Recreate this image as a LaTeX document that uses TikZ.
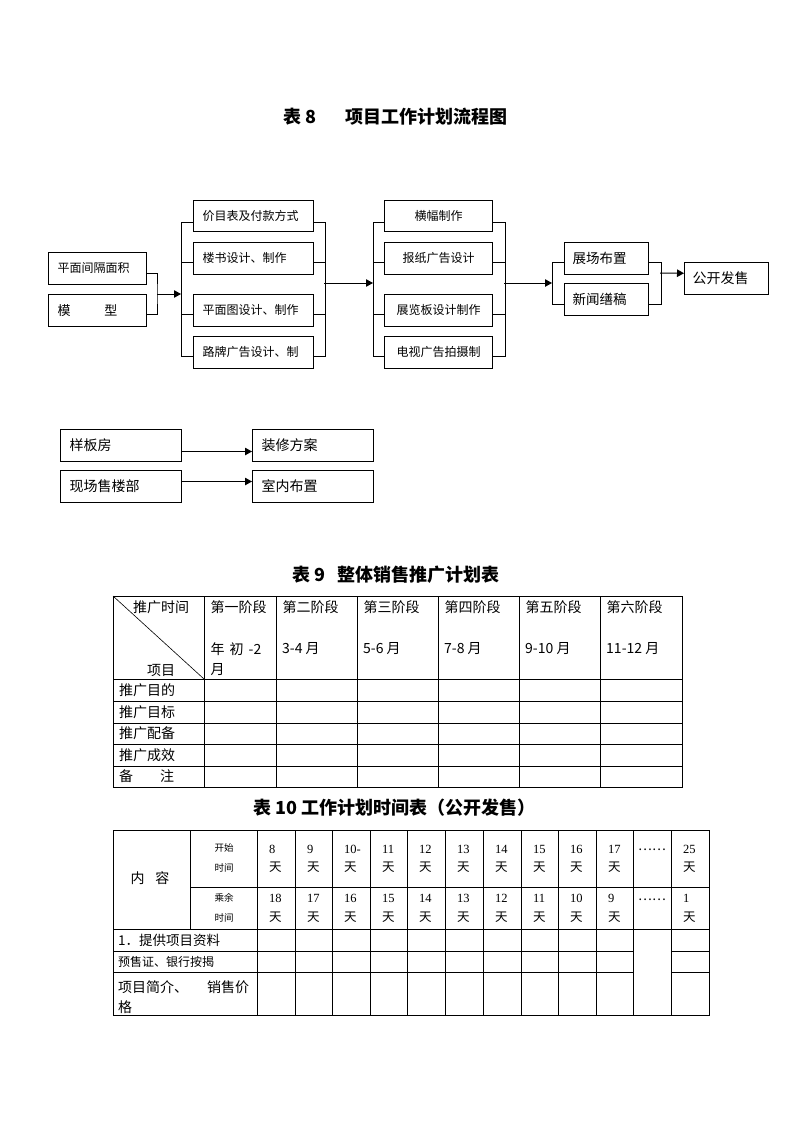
\documentclass[tikz,border=0pt]{standalone}
\usepackage{fontspec}
\setmainfont{Noto Sans CJK SC}
\newfontfamily\numf{Liberation Serif}
\usetikzlibrary{arrows.meta}
\newcommand\myfs[1]{\fontsize{#1}{#1}\selectfont}
\tikzset{
  ln/.style={line width=1pt},
  arr/.style={ln, -{Triangle[length=7pt,width=7.5pt]}},
  bx/.style={draw, line width=1pt, anchor=north west, inner ysep=0pt, minimum height=31.5pt, align=left},
  ttl/.style={anchor=west, inner sep=0pt, font=\myfs{18}\bfseries},
  tx/.style={anchor=west, inner sep=0pt, font=\myfs{14}},
  sm/.style={inner sep=0pt, font=\myfs{9.5}},
  num/.style={anchor=west, inner sep=0pt, font=\numf\myfs{12.5}},
  tian/.style={anchor=west, inner sep=0pt, font=\myfs{12.5}},
}
\begin{document}
\begin{tikzpicture}[x=1pt,y=-1pt]
\useasboundingbox (0,0) rectangle (794,1123);
% ---------- title 8
\node[ttl] (t8a) at (283,117) {表 8};
\node[ttl] (t8b) at (345,117) {项目工作计划流程图};
% ---------- flowchart
\node[bx, text width=80pt, inner xsep=9pt, font=\myfs{12}] (L1) at (48,252) {平面间隔面积};
\node[bx, text width=80pt, inner xsep=9pt, font=\myfs{13}] (L2) at (48,294) {模\hspace{34pt}型};
\foreach \n/\y/\t in {a1/200/价目表及付款方式, a2/242/楼书设计、制作, a3/294/平面图设计、制作, a4/336/路牌广告设计、制}
  \node[bx, text width=102pt, inner xsep=9pt, font=\myfs{12}] (\n) at (193,\y) {\t};
\foreach \n/\y/\t in {c1/200/横幅制作, c2/242/报纸广告设计, c3/294/展览板设计制作, c4/336/电视广告拍摄制}
  \node[bx, text width=108pt, inner xsep=0pt, align=center, font=\myfs{12}] (\n) at (384,\y) {\t};
\node[bx, text width=68pt, inner xsep=8pt, font=\myfs{13.5}] (z1) at (564,242) {展场布置};
\node[bx, text width=68pt, inner xsep=8pt, font=\myfs{13.5}] (z2) at (564,283) {新闻缮稿};
\node[bx, text width=68pt, inner xsep=8pt, font=\myfs{14}] (gk) at (684,262) {公开发售};

\coordinate (jL) at (157,294);
\coordinate (b1) at (181,294);
\coordinate (r1) at (324,283);
\coordinate (b2) at (373,283);
\coordinate (r2) at (504,283);
\coordinate (b3) at (552,283);
\coordinate (r3) at (660,273);

\draw[ln] ([yshift=-5.5pt]L1.east) -| (jL) |- ([yshift=-4.5pt]L2.east);
\draw[arr] (jL) -- (b1);
% group 1 brackets
\draw[ln] ([yshift=-6pt]a1.west) -- ++(-12,0) |- ([yshift=-4.5pt]a4.west);
\draw[ln] ([yshift=-4.5pt]a2.west) -- ++(-12,0);
\draw[ln] ([yshift=-4.5pt]a3.west) -- ++(-12,0);
\draw[ln] ([yshift=-6pt]a1.east) -- ++(11,0) |- ([yshift=-4.5pt]a4.east);
\draw[ln] ([yshift=-4.5pt]a2.east) -- ++(11,0);
\draw[ln] ([yshift=-4.5pt]a3.east) -- ++(11,0);
\draw[arr] (r1) -- (b2);
% group 2 brackets
\draw[ln] ([yshift=-6pt]c1.west) -- ++(-11,0) |- ([yshift=-4.5pt]c4.west);
\draw[ln] ([yshift=-4.5pt]c2.west) -- ++(-11,0);
\draw[ln] ([yshift=-4.5pt]c3.west) -- ++(-11,0);
\draw[ln] ([yshift=-6pt]c1.east) -- ++(12,0) |- ([yshift=-4.5pt]c4.east);
\draw[ln] ([yshift=-4.5pt]c2.east) -- ++(12,0);
\draw[ln] ([yshift=-4.5pt]c3.east) -- ++(12,0);
\draw[arr] (r2) -- (b3);
% group 3 brackets
\draw[ln] ([yshift=-4.5pt]z1.west) -- ++(-12,0) |- ([yshift=-5.5pt]z2.west);
\draw[ln] ([yshift=-4.5pt]z1.east) -- ++(12,0) |- ([yshift=-5.5pt]z2.east);
\draw[arr] (r3) -- ([yshift=5pt]gk.west);

% ---------- lower boxes
\node[bx, minimum height=32pt, text width=103pt, inner xsep=9pt, font=\myfs{14}] (yb) at (60,429) {样板房};
\node[bx, minimum height=32pt, text width=103pt, inner xsep=9pt, font=\myfs{14}] (xc) at (60,470) {现场售楼部};
\node[bx, minimum height=32pt, text width=103pt, inner xsep=9pt, font=\myfs{14}] (zx) at (252,429) {装修方案};
\node[bx, minimum height=32pt, text width=103pt, inner xsep=9pt, font=\myfs{14}] (sn) at (252,470) {室内布置};
\draw[arr] ([yshift=-6pt]yb.east) -- ([yshift=-6pt]zx.west);
\draw[arr] ([yshift=5pt]xc.east) -- ([yshift=5pt]sn.west);

% ---------- table 9
\node[ttl] (t9a) at (292,575) {表 9};
\node[ttl] (t9b) at (337,575) {整体销售推广计划表};
\draw[ln] (113,596) rectangle (682,787);
\foreach \x in {204,276,357,438,519,600} \draw[ln] (\x,596) -- (\x,787);
\foreach \y in {679,701,723,744,766} \draw[ln] (113,\y) -- (682,\y);
\draw[line width=0.6pt] (113,596) -- (204,679);
\node[tx] (h0a) at (133,607) {推广时间};
\node[tx] (h0b) at (147,670) {项目};
\foreach \x/\t [count=\i] in {204/第一阶段, 276/第二阶段, 357/第三阶段, 438/第四阶段, 519/第五阶段, 600/第六阶段}
  \node[tx] (h\i) at (\x+6.5,607) {\t};
\node[tx] (m1) at (210.5,649) {年\hspace{5pt}初\hspace{5pt}-2};
\node[tx] (m1b) at (210.5,670) {月};
\foreach \x/\t [count=\i from 2] in {276/3-4 月, 357/5-6 月, 438/7-8 月, 519/9-10 月, 600/11-12 月}
  \node[tx] (m\i) at (\x+6,649) {\t};
\foreach \y/\t [count=\i] in {690/推广目的, 712/推广目标, 733.5/推广配备, 755/推广成效}
  \node[tx] (r\i) at (119,\y) {\t};
\node[tx] (r5) at (119,776.5) {备\hspace{27pt}注};

% ---------- table 10
\node[ttl, font=\myfs{18}\bfseries] (t10) at (253,808) {表 10 工作计划时间表（公开发售）};
\draw[ln] (113,830) rectangle (709,1015);
\draw[ln] (190,830) -- (190,929);
\foreach \x in {257,295,332,370,407,445,483,521,558,596,633,671} \draw[ln] (\x,830) -- (\x,1015);
\draw[ln] (190,887) -- (709,887);
\draw[ln] (113,929) -- (709,929);
\foreach \y in {951,972} {
  \draw[ln] (113,\y) -- (633,\y);
  \draw[ln] (671,\y) -- (709,\y);
}
\node[inner sep=0pt, font=\myfs{14}] (nr) at (150,878) {内\hspace{11pt}容};
\node[sm] (s1) at (224,848) {开始};
\node[sm] (s2) at (224,868) {时间};
\node[sm] (s3) at (224,898) {乘余};
\node[sm] (s4) at (224,918) {时间};
\foreach \x/\a/\b [count=\i] in {257/8/18, 295/9/17, 332/10-/16, 370/11/15, 407/12/14, 445/13/13, 483/14/12, 521/15/11, 558/16/10, 596/17/9, 671/25/1} {
  \node[num] (na\i) at (\x+12,849) {\a};
  \node[tian] (ta\i) at (\x+12,867) {天};
  \node[num] (nb\i) at (\x+12,898) {\b};
  \node[tian] (tb\i) at (\x+12,917) {天};
}
\node[inner sep=0pt, font=\myfs{13}] (d1) at (652,850) {……};
\node[inner sep=0pt, font=\myfs{13}] (d2) at (652,900) {……};
\node[tx, font=\myfs{13.5}] (q1) at (118,940) {1．提供项目资料};
\node[tx, font=\myfs{12}] (q2) at (118,961.5) {预售证、银行按揭};
\node[tx] (q3) at (118,987) {项目简介、\hspace{19pt}销售价};
\node[tx] (q4) at (118,1007) {格};
\end{tikzpicture}
\end{document}
